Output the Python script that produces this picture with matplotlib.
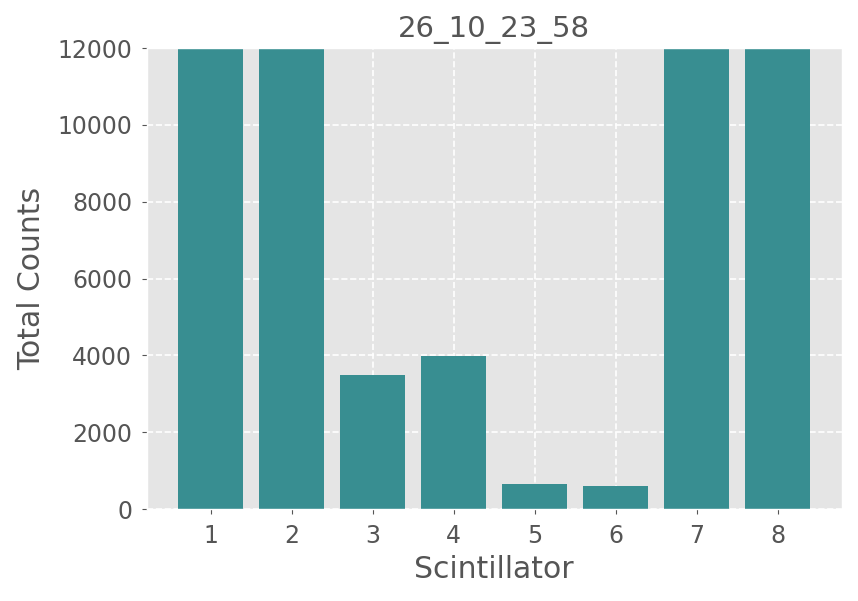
import matplotlib
matplotlib.use("Agg")
import matplotlib.pyplot as plt

plt.style.use("ggplot")

# Data: scintillator channels and total counts (bars 1, 2, 7, 8 run off the top)
scintillators = [1, 2, 3, 4, 5, 6, 7, 8]
total_counts = [15000, 15000, 3500, 3990, 640, 610, 15000, 15000]
title = "26_10_23_58"

BAR = "#388E91"
GREY = "#555555"

fig = plt.figure(figsize=(8.58, 6.01), dpi=100)
ax = fig.add_axes([0.171, 0.153, 0.810, 0.767])

ax.bar(scintillators, total_counts, color=BAR, width=0.8)
ax.set_ylim(0, 12000)
ax.set_xticks(scintillators)
ax.grid(True, color="white", linestyle="--", linewidth=1.2)

ax.tick_params(labelsize=17, colors=GREY, pad=7)
ax.set_xlabel("Scintillator", fontsize=21.5, color=GREY, labelpad=5)
ax.set_ylabel("Total Counts", fontsize=21.5, color=GREY, labelpad=8)
ax.set_title(title, fontsize=21, color=GREY, pad=8)

fig.savefig("out.png", dpi=100)
